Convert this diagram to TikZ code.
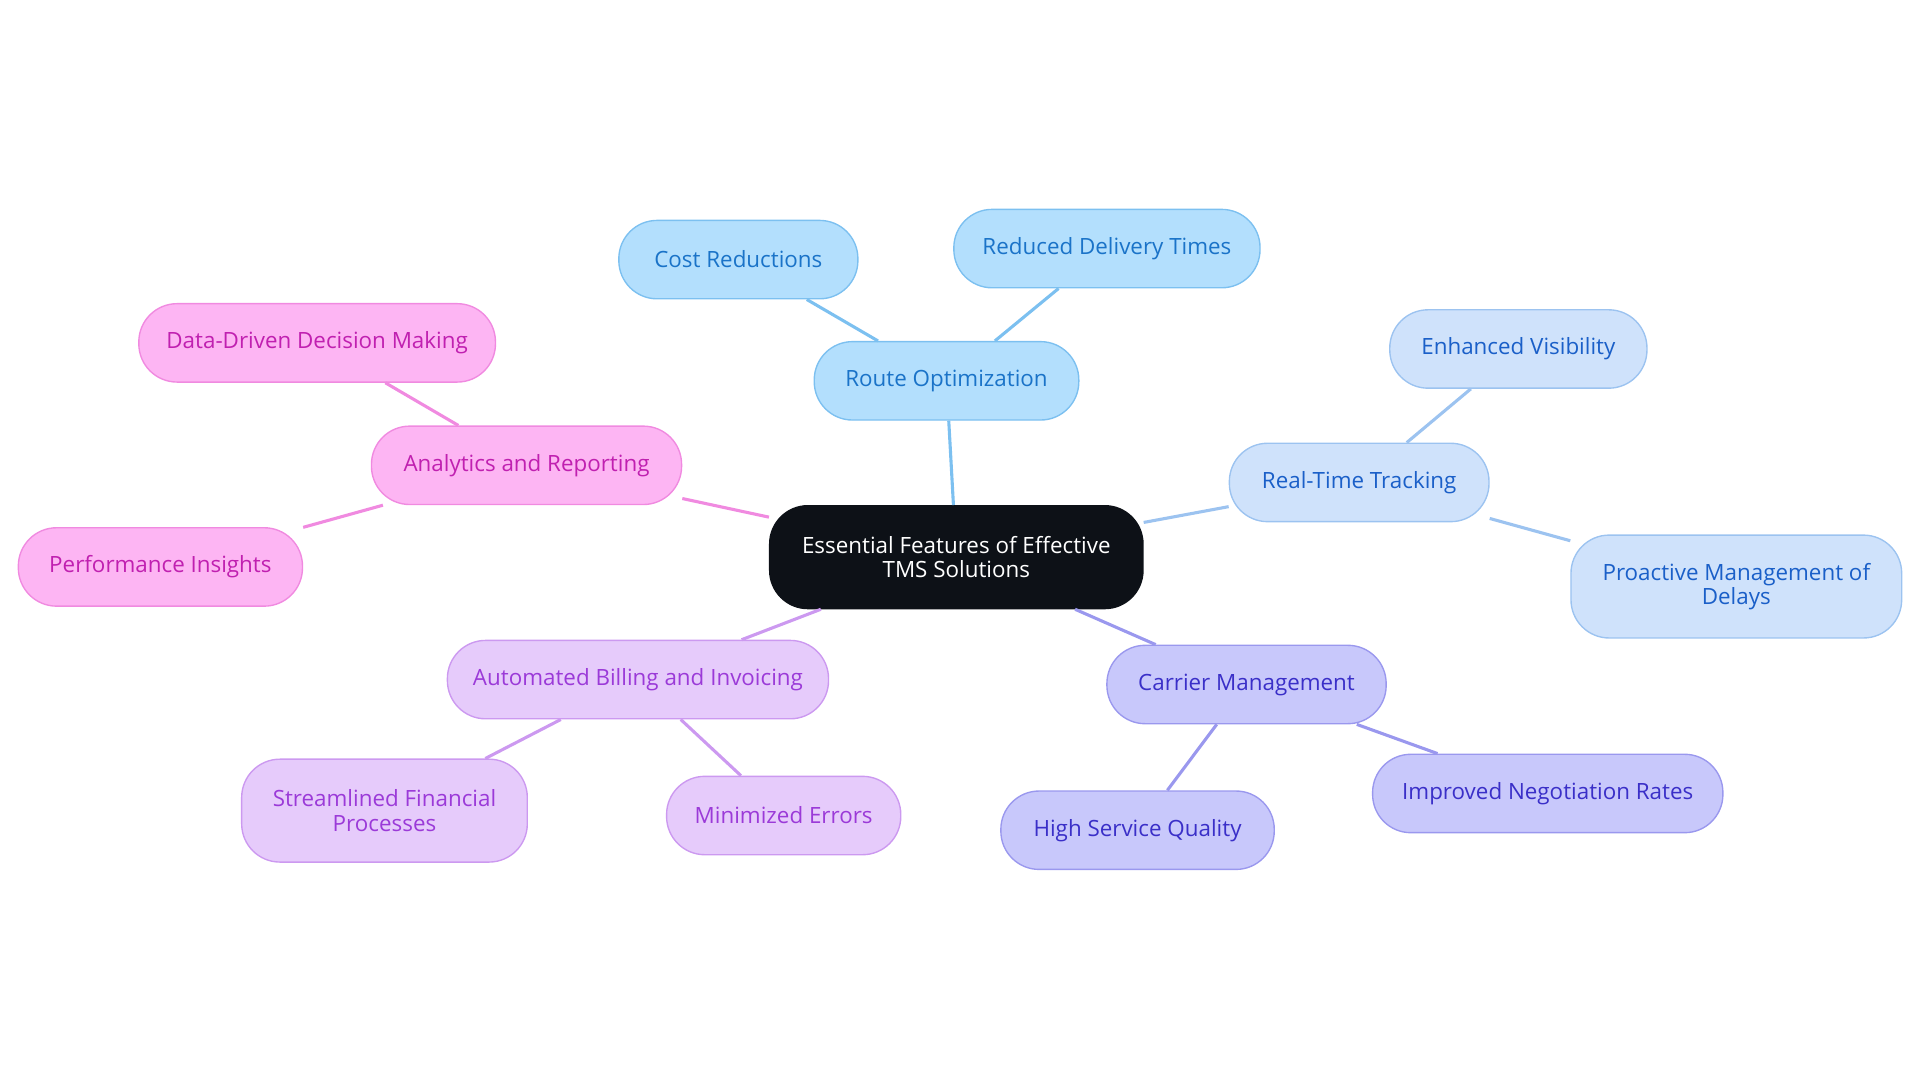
\documentclass[tikz,border=0pt]{standalone}
\usepackage{fontspec}
\setmainfont{Open Sans}
\definecolor{hubfill}{HTML}{0D1117}
\definecolor{rofill}{HTML}{B3DFFD}\definecolor{rodraw}{HTML}{7CC0F0}\definecolor{rotext}{HTML}{1A73C8}
\definecolor{rtfill}{HTML}{CFE2FB}\definecolor{rtdraw}{HTML}{9CC3F0}\definecolor{rttext}{HTML}{1A5FC8}
\definecolor{cmfill}{HTML}{C8C8FB}\definecolor{cmdraw}{HTML}{9A98EE}\definecolor{cmtext}{HTML}{3A2FC8}
\definecolor{abfill}{HTML}{E6CBFB}\definecolor{abdraw}{HTML}{CC99F0}\definecolor{abtext}{HTML}{9B3AD8}
\definecolor{arfill}{HTML}{FDB5F3}\definecolor{ardraw}{HTML}{F08AE0}\definecolor{artext}{HTML}{C020B0}
\tikzset{
  box/.style={rounded corners=0.78cm, minimum height=1.6cm, align=center,
    font=\fontsize{13}{14}\selectfont, line width=0.8pt, inner sep=0pt},
  routebox/.style={box, fill=rofill, draw=rodraw, text=rotext},
  trackbox/.style={box, fill=rtfill, draw=rtdraw, text=rttext},
  carrierbox/.style={box, fill=cmfill, draw=cmdraw, text=cmtext},
  billbox/.style={box, fill=abfill, draw=abdraw, text=abtext},
  reportbox/.style={box, fill=arfill, draw=ardraw, text=artext},
  link/.style={line width=1.8pt}
}
\begin{document}
\begin{tikzpicture}[x=0.025cm, y=-0.025cm]
\useasboundingbox (0,0) rectangle (1568,884);
% hub
\node[box, fill=hubfill, draw=hubfill, text=white, minimum width=7.62cm, minimum height=2.1cm] (hub) at (781,455) {Essential Features of Effective\\TMS Solutions};
% route optimization
\node[routebox, minimum width=5.4cm] (route) at (773,311) {Route Optimization};
\node[routebox, minimum width=4.88cm] (cost) at (603,212) {Cost Reductions};
\node[routebox, minimum width=6.25cm] (delivery) at (904,203) {Reduced Delivery Times};
% real-time tracking
\node[trackbox, minimum width=5.3cm] (tracking) at (1110,394) {Real-Time Tracking};
\node[trackbox, minimum width=5.25cm] (visibility) at (1240,285) {Enhanced Visibility};
\node[trackbox, minimum width=6.75cm, minimum height=2.1cm] (delays) at (1418,479) {Proactive Management of\\Delays};
% carrier management
\node[carrierbox, minimum width=5.7cm] (carrier) at (1018,559) {Carrier Management};
\node[carrierbox, minimum width=5.58cm] (quality) at (929,678) {High Service Quality};
\node[carrierbox, minimum width=7.15cm] (rates) at (1264,648) {Improved Negotiation Rates};
% automated billing
\node[billbox, minimum width=7.78cm] (billing) at (521,555) {Automated Billing and Invoicing};
\node[billbox, minimum width=5.83cm, minimum height=2.1cm] (financial) at (314,662) {Streamlined Financial\\Processes};
\node[billbox, minimum width=4.78cm] (errors) at (640,666) {Minimized Errors};
% analytics
\node[reportbox, minimum width=6.33cm] (analytics) at (430,380) {Analytics and Reporting};
\node[reportbox, minimum width=7.28cm] (decision) at (259,280) {Data-Driven Decision Making};
\node[reportbox, minimum width=5.8cm] (insights) at (131,463) {Performance Insights};
% links
\draw[link, rodraw] (hub) -- (route) (route) -- (cost) (route) -- (delivery);
\draw[link, rtdraw] (hub) -- (tracking) (tracking) -- (visibility) (tracking) -- (delays);
\draw[link, cmdraw] (hub) -- (carrier) (carrier) -- (quality) (carrier) -- (rates);
\draw[link, abdraw] (hub) -- (billing) (billing) -- (financial) (billing) -- (errors);
\draw[link, ardraw] (hub) -- (analytics) (analytics) -- (decision) (analytics) -- (insights);
\end{tikzpicture}
\end{document}
